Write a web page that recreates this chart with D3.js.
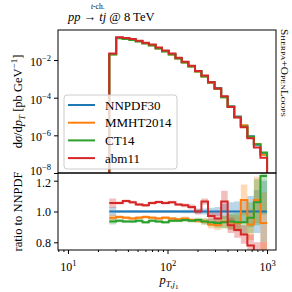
<!DOCTYPE html>
<html>
<head>
<meta charset="utf-8">
<script src="https://cdn.jsdelivr.net/npm/d3@7"></script>
<style>
  body { margin: 0; background: #fff; }
  svg { font-family: "Liberation Serif", "DejaVu Serif", serif; }
</style>
</head>
<body>
<svg id="chart" width="292" height="292"></svg>
<script>
// bin edges in GeV (log-spaced)
var edges = [26, 30.5, 35.5, 41.5, 48, 56, 65, 76, 88, 103, 120, 139, 162, 189,
  219, 255, 297, 346, 402, 468, 545, 634, 737, 858, 1000];

// NNPDF30 central dsigma/dpT [pb/GeV]
var nnpdf = [0.0208, 0.153, 0.139, 0.123, 0.102, 0.080, 0.0627, 0.0434, 0.0301,
  0.0208, 0.0128, 7.8e-3, 4.8e-3, 2.6e-3, 1.41e-3, 6.8e-4, 3.26e-4, 1.12e-4,
  3.5e-5, 1.0e-5, 3.2e-6, 8.9e-7, 3.2e-7, 1.0e-7];

// ratios to NNPDF30
var ratioNNPDF = [1, 1, 1, 1, 1, 1, 1, 1, 1, 1, 1, 1, 1, 1, 1, 1, 1, 1, 1, 1, 1, 1, 1, 1];
var ratioMMHT = [0.96, 0.965, 0.96, 0.955, 0.96, 0.965, 0.96, 0.955, 0.96, 0.955,
  0.95, 0.955, 0.945, 0.94, 0.935, 0.915, 0.91, 0.935, 0.93, 0.925, 1.075, 0.915, 1.075, 0.925];
var ratioCT14 = [0.935, 0.94, 0.935, 0.935, 0.94, 0.93, 0.94, 0.935, 0.93, 0.94,
  0.94, 0.945, 0.94, 0.945, 0.935, 0.93, 0.925, 0.93, 0.935, 0.93, 0.93, 0.96, 1.06, 1.23];
var ratioABM = [1.055, 1.055, 1.068, 1.06, 1.045, 1.04, 1.055, 1.062, 1.055, 1.06,
  1.045, 1.04, 1.03, 1.0, 1.065, 0.97, 0.955, 1.065, 0.91, 0.88, 0.85, 0.78, 0.70, 0.65];

// relative uncertainty half-widths (bands)
var uncNNPDF = [0.03, 0.01, 0.01, 0.01, 0.01, 0.01, 0.01, 0.01, 0.01, 0.01, 0.01, 0.012,
  0.012, 0.015, 0.02, 0.025, 0.03, 0.05, 0.06, 0.065, 0.07, 0.1, 0.14, 0.2];
var uncMMHT = [0.02, 0.01, 0.01, 0.01, 0.01, 0.01, 0.01, 0.01, 0.01, 0.01, 0.01, 0.012,
  0.012, 0.015, 0.02, 0.025, 0.03, 0.04, 0.05, 0.05, 0.1, 0.1, 0.15, 0.2];
var uncCT14 = [0.02, 0.01, 0.01, 0.01, 0.01, 0.01, 0.01, 0.01, 0.01, 0.01, 0.01, 0.012,
  0.012, 0.015, 0.02, 0.025, 0.03, 0.04, 0.05, 0.06, 0.08, 0.1, 0.15, 0.25];
var uncABM = [0.03, 0.01, 0.01, 0.01, 0.01, 0.01, 0.01, 0.01, 0.01, 0.01, 0.01, 0.012,
  0.015, 0.02, 0.02, 0.03, 0.04, 0.07, 0.05, 0.05, 0.06, 0.07, 0.1, 0.15];

var names = ["NNPDF30", "MMHT2014", "CT14", "abm11"];
var colors = ["#1f77b4", "#ff7f0e", "#2ca02c", "#d62728"];
var ratios = [ratioNNPDF, ratioMMHT, ratioCT14, ratioABM];
var uncs = [uncNNPDF, uncMMHT, uncCT14, uncABM];

var svg = d3.select("#chart");

var left = 58, right = 276, top1 = 30, mid = 173, bottom = 250;

var x = d3.scaleLog().domain([7.94, 1230]).range([left, right]);
var y = d3.scaleLog().domain([1e-8, 0.393]).range([mid, top1]);
var yr = d3.scaleLinear().domain([0.75, 1.25]).range([bottom, mid]);

var defs = svg.append("defs");
defs.append("clipPath").attr("id", "clipMain")
  .append("rect").attr("x", left).attr("y", top1).attr("width", right - left).attr("height", mid - top1);
defs.append("clipPath").attr("id", "clipRatio")
  .append("rect").attr("x", left).attr("y", mid).attr("width", right - left).attr("height", bottom - mid);

function steps(vals) {
  var pts = vals.map(function(v, i) { return [edges[i], v]; });
  pts.push([edges[edges.length - 1], vals[vals.length - 1]]);
  return pts;
}

// main panel
var mainLine = d3.line()
  .x(function(d) { return x(d[0]); })
  .y(function(d) { return y(d[1]); })
  .curve(d3.curveStepAfter);

var gMain = svg.append("g").attr("clip-path", "url(#clipMain)");
ratios.forEach(function(r, k) {
  var vals = nnpdf.map(function(v, i) { return v * r[i]; });
  var pts = [[edges[0], 1e-10]].concat(steps(vals)).concat([[edges[edges.length - 1], 1e-10]]);
  gMain.append("path")
    .attr("d", mainLine(pts))
    .attr("fill", "none")
    .attr("stroke", colors[k])
    .attr("stroke-width", 2);
});

// ratio panel
var gRatio = svg.append("g").attr("clip-path", "url(#clipRatio)");
var band = d3.area()
  .x(function(d) { return x(d[0]); })
  .y0(function(d) { return yr(d[1]); })
  .y1(function(d) { return yr(d[2]); })
  .curve(d3.curveStepAfter);
var ratioLine = d3.line()
  .x(function(d) { return x(d[0]); })
  .y(function(d) { return yr(d[1]); })
  .curve(d3.curveStepAfter);

ratios.forEach(function(r, k) {
  var pts = r.map(function(v, i) { return [edges[i], v - uncs[k][i], v + uncs[k][i]]; });
  pts.push([edges[edges.length - 1], pts[pts.length - 1][1], pts[pts.length - 1][2]]);
  gRatio.append("path")
    .attr("d", band(pts))
    .attr("fill", colors[k])
    .attr("fill-opacity", 0.3);
});
ratios.forEach(function(r, k) {
  gRatio.append("path")
    .attr("d", ratioLine(steps(r)))
    .attr("fill", "none")
    .attr("stroke", colors[k])
    .attr("stroke-width", 2);
});

// frames
[[top1, mid], [mid, bottom]].forEach(function(p) {
  svg.append("rect")
    .attr("x", left).attr("y", p[0])
    .attr("width", right - left).attr("height", p[1] - p[0])
    .attr("fill", "none").attr("stroke", "#000").attr("stroke-width", 1);
});

function supLabel(sel, base, exp, fs) {
  sel.text(null);
  sel.append("tspan").text(base);
  sel.append("tspan").attr("dy", -5).attr("font-size", fs).text(exp);
}

// main y axis
var yAxis = svg.append("g")
  .attr("transform", "translate(" + left + ",0)")
  .call(d3.axisLeft(y).tickValues([1e-8, 1e-6, 1e-4, 1e-2]).tickSize(4).tickPadding(3));
yAxis.select(".domain").remove();
yAxis.selectAll(".tick text")
  .attr("font-size", 12).attr("font-family", "Liberation Serif").attr("fill", "#000")
  .attr("dy", function(d) { return d === 1e-8 ? "0.15em" : "0.45em"; })
  .each(function(d) {
    supLabel(d3.select(this), "10", "\u2212" + Math.round(-Math.log10(d)), 8.5);
  });

// ratio y axis
var yrAxis = svg.append("g")
  .attr("transform", "translate(" + left + ",0)")
  .call(d3.axisLeft(yr).tickValues([0.8, 1.0, 1.2]).tickFormat(d3.format(".1f")).tickSize(4).tickPadding(3));
yrAxis.select(".domain").remove();
yrAxis.selectAll(".tick text")
  .attr("font-size", 12).attr("font-family", "Liberation Serif").attr("fill", "#000")
  .attr("dy", function(d) { return d === 1.2 ? "0.5em" : "0.32em"; });

// x axis (ratio panel)
var minor = [];
[1, 10, 100].forEach(function(dec) {
  for (var m = 2; m <= 9; m++) {
    var v = m * dec;
    if (v > 7.94 && v < 1230) minor.push(v);
  }
});
var xMinor = svg.append("g")
  .attr("transform", "translate(0," + bottom + ")")
  .call(d3.axisBottom(x).tickValues(minor).tickSize(2).tickFormat(""));
xMinor.select(".domain").remove();

var xAxis = svg.append("g")
  .attr("transform", "translate(0," + bottom + ")")
  .call(d3.axisBottom(x).tickValues([10, 100, 1000]).tickSize(4).tickPadding(4));
xAxis.select(".domain").remove();
xAxis.selectAll(".tick text")
  .attr("font-size", 12).attr("font-family", "Liberation Serif").attr("fill", "#000")
  .attr("dy", "1.1em")
  .each(function(d) {
    supLabel(d3.select(this), "10", String(Math.round(Math.log10(d))), 8.5);
  });

// axis labels
svg.append("text")
  .attr("transform", "translate(22," + ((top1 + mid) / 2) + ") rotate(-90)")
  .attr("text-anchor", "middle")
  .attr("font-size", 12.5)
  .html('d<tspan font-style="italic">σ</tspan>/d<tspan font-style="italic">p</tspan><tspan font-style="italic" font-size="9" dy="3">T</tspan><tspan dy="-3"> [pb GeV</tspan><tspan font-size="9" dy="-5">\u22121</tspan><tspan dy="5">]</tspan>');

svg.append("text")
  .attr("transform", "translate(22," + ((mid + bottom) / 2) + ") rotate(-90)")
  .attr("text-anchor", "middle")
  .attr("font-size", 12.5)
  .text("ratio to NNPDF");

svg.append("text")
  .attr("x", (left + right) / 2 + 2)
  .attr("y", 284)
  .attr("text-anchor", "middle")
  .attr("font-size", 12.5)
  .html('<tspan font-style="italic">p</tspan><tspan font-style="italic" font-size="9" dy="3">T,j</tspan><tspan font-size="7" dy="2">1</tspan>');

// title
var title = svg.append("text").attr("x", 68).attr("y", 21).attr("font-size", 12.5);
title.append("tspan").attr("font-style", "italic").text("pp");
title.append("tspan").text(" \u2192 ");
title.append("tspan").attr("font-style", "italic").text("tj");
title.append("tspan").text(" @ 8 TeV");
svg.append("text").attr("x", 91).attr("y", 9).attr("font-size", 7.5)
  .html('<tspan font-style="italic">t</tspan>-ch.');

// generator label on the right
svg.append("text")
  .attr("transform", "translate(281,29) rotate(90)")
  .attr("font-size", 10)
  .attr("textLength", 88)
  .attr("lengthAdjust", "spacingAndGlyphs")
  .style("font-variant", "small-caps")
  .text("Sherpa+OpenLoops");

// legend
var leg = svg.append("g");
leg.append("rect")
  .attr("x", 64).attr("y", 95).attr("width", 113).attr("height", 74)
  .attr("rx", 3)
  .attr("fill", "#fff").attr("fill-opacity", 0.8)
  .attr("stroke", "#ccc").attr("stroke-width", 1);
names.forEach(function(n, k) {
  var yy = 105 + k * 17.7;
  leg.append("line")
    .attr("x1", 68).attr("x2", 95).attr("y1", yy).attr("y2", yy)
    .attr("stroke", colors[k]).attr("stroke-width", 2);
  leg.append("text")
    .attr("x", 105).attr("y", yy + 4.5)
    .attr("font-size", 13)
    .text(n);
});
</script>
</body>
</html>
